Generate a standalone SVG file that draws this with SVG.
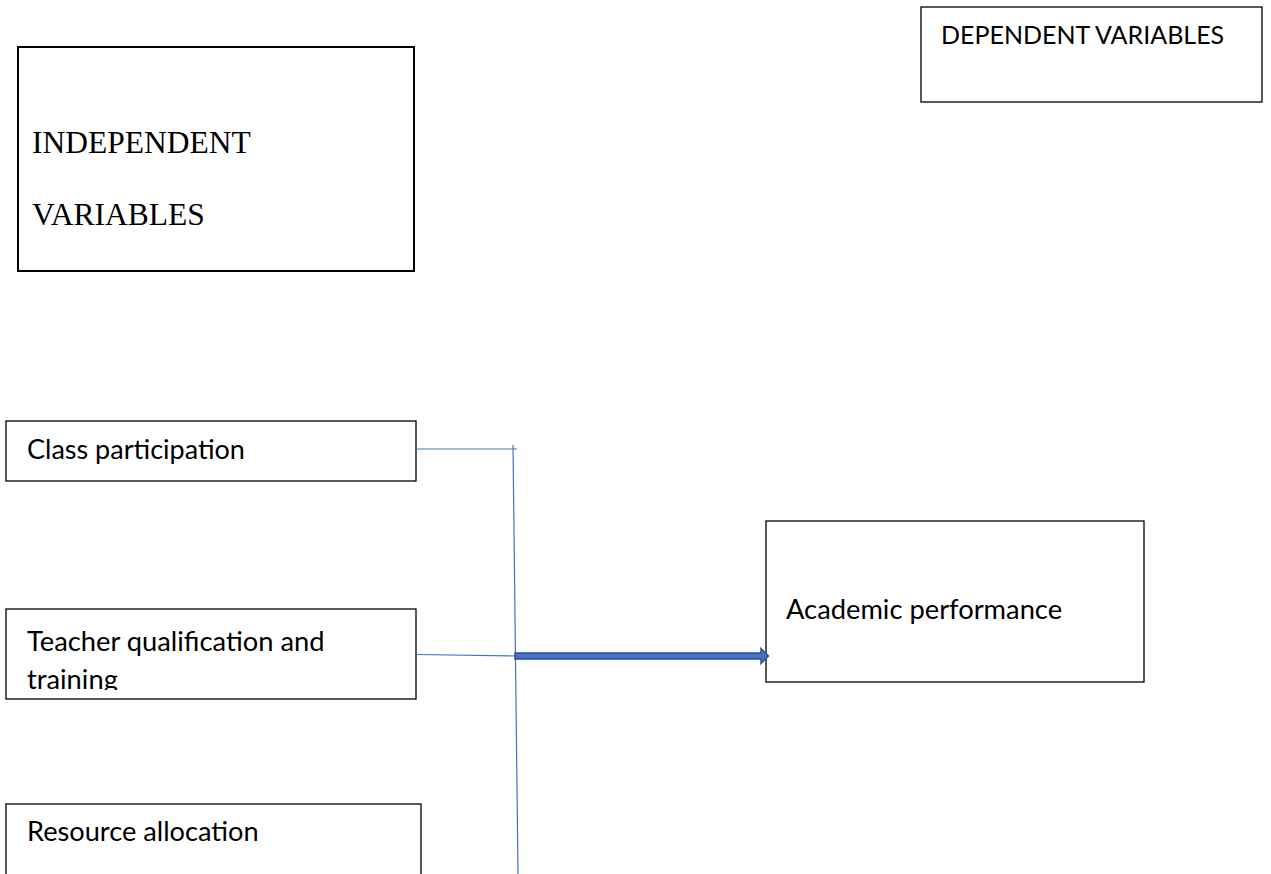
<svg xmlns="http://www.w3.org/2000/svg" width="1271" height="874" viewBox="0 0 1271 874">
<style>
.box{fill:#fff;stroke:#000;stroke-width:1.3}
.bold{stroke-width:2}
.t{font-family:Lato,"Liberation Sans",sans-serif;fill:#000}
.s{font-family:"Liberation Serif",serif;fill:#000;font-size:31.5px}
.ln{stroke:#4472C4;stroke-width:1.2;fill:none}
</style>
<defs>
<clipPath id="clipT"><rect x="6" y="609" width="410" height="81"/></clipPath>
</defs>
<rect width="1271" height="874" fill="#fff"/>
<g id="independent">
<rect class="box bold" x="18" y="47" width="396" height="224"/>
<text class="s" x="32" y="153">INDEPENDENT</text>
<text class="s" x="32" y="225">VARIABLES</text>
</g>
<g id="dependent">
<rect class="box" x="921" y="7" width="341" height="95"/>
<text class="t" x="941" y="44" font-size="25">DEPENDENT VARIABLES</text>
</g>
<g id="class-participation">
<rect class="box" x="6" y="421" width="410" height="60"/>
<text class="t" x="27" y="459" font-size="27">Class participation</text>
</g>
<g id="teacher-qualification">
<rect class="box" x="6" y="609" width="410" height="90"/>
<g clip-path="url(#clipT)">
<text class="t" x="27" y="651" font-size="27.3">Teacher qualification and</text>
<text class="t" x="27" y="689" font-size="27.3">training</text>
</g>
</g>
<g id="resource-allocation">
<rect class="box" x="6" y="804" width="415" height="80"/>
<text class="t" x="27" y="841" font-size="27.2">Resource allocation</text>
</g>
<g id="academic-performance">
<rect class="box" x="766" y="521" width="378" height="161"/>
<text class="t" x="786" y="619" font-size="27.3">Academic performance</text>
</g>
<g id="connectors">
<line class="ln" x1="416" y1="449" x2="517" y2="449"/>
<line class="ln" x1="513" y1="445" x2="518" y2="874"/>
<line class="ln" x1="416" y1="654.5" x2="516" y2="656"/>
<path d="M515 653 L761 653 L761 648.5 L768.5 656 L761 663.5 L761 659 L515 659 Z" fill="#4472C4" stroke="#2F528F" stroke-width="1.5" stroke-linejoin="miter"/>
</g>
</svg>
